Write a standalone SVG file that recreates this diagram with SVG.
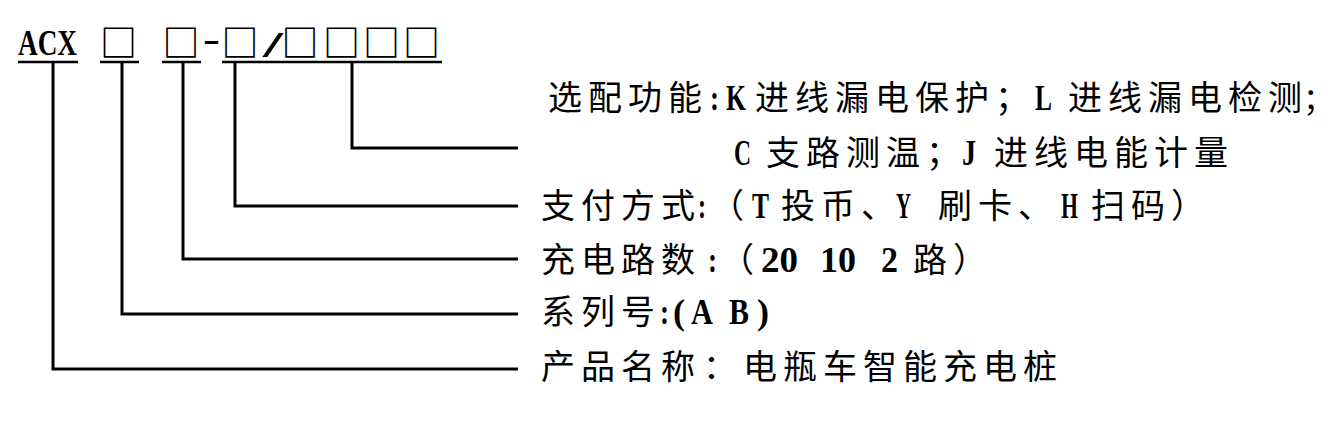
<svg xmlns="http://www.w3.org/2000/svg" width="1340" height="426" viewBox="0 0 1340 426">
<style>
.t{fill:#000;font-size:34px}
.c{font-family:"Noto Sans CJK SC",sans-serif;letter-spacing:6px}
.e{font-family:"Noto Sans CJK SC",sans-serif;letter-spacing:0}
.l{font-family:"Liberation Serif",serif;font-weight:bold;font-size:35px;letter-spacing:0}
.box{font-family:"Noto Sans CJK SC",sans-serif;font-weight:bold;font-size:37px;fill:#000;text-anchor:middle}
.ln{fill:none;stroke:#000;stroke-width:3}
.ul{fill:none;stroke:#000;stroke-width:2.5}
</style>
<rect width="1340" height="426" fill="#fff"/>
<g id="code">
<text x="18" y="55" class="t l" textLength="59" lengthAdjust="spacingAndGlyphs">ACX</text>
<text class="box" y="56.5"><tspan x="118.5">□</tspan><tspan x="181">□</tspan><tspan x="240">□</tspan><tspan x="300">□</tspan><tspan x="341.5">□</tspan><tspan x="381.5">□</tspan><tspan x="421.5">□</tspan></text>
<text x="203" y="51" class="t l" textLength="17" lengthAdjust="spacingAndGlyphs">-</text>
<text x="263" y="57" class="t l" font-size="37" textLength="20" lengthAdjust="spacingAndGlyphs">/</text>
<path class="ul" d="M18,62H78M100,62H139M162,62H201M222,62H442"/>
</g>
<g id="connectors">
<path class="ln" d="M352,62V148H518"/>
<path class="ln" d="M235,62V206H518"/>
<path class="ln" d="M183,62V259H518"/>
<path class="ln" d="M122,62V314H518"/>
<path class="ln" d="M53,62V369H518"/>
</g>
<g id="options">
<text class="t" y="110"><tspan class="c" x="548">选配功能</tspan><tspan class="l" x="710" textLength="9" lengthAdjust="spacingAndGlyphs">:</tspan><tspan class="l" x="726" textLength="20" lengthAdjust="spacingAndGlyphs">K</tspan><tspan class="c" x="755">进线漏电保护</tspan><tspan class="e" x="995">；</tspan><tspan class="l" x="1035" textLength="17" lengthAdjust="spacingAndGlyphs">L</tspan><tspan class="c" x="1068">进线漏电检</tspan><tspan class="e" x="1268">测</tspan><tspan class="e" x="1303" font-size="31">；</tspan></text>
<text class="t" y="165"><tspan class="l" x="734" textLength="17" lengthAdjust="spacingAndGlyphs">C</tspan><tspan class="c" x="766">支路测温</tspan><tspan class="e" x="926">；</tspan><tspan class="l" x="962" textLength="14" lengthAdjust="spacingAndGlyphs">J</tspan><tspan class="c" x="994">进线电能计量</tspan></text>
</g>
<g id="payment">
<text class="t" y="218"><tspan class="c" x="541">支付方</tspan><tspan class="e" x="661">式</tspan><tspan class="l" x="698" textLength="8" lengthAdjust="spacingAndGlyphs">:</tspan><tspan class="e" x="710">（</tspan><tspan class="l" x="752" textLength="17" lengthAdjust="spacingAndGlyphs">T</tspan><tspan class="c" x="781">投币</tspan><tspan class="e" x="861">、</tspan><tspan class="l" x="896" textLength="15" lengthAdjust="spacingAndGlyphs">Y</tspan><tspan class="c" x="938">刷卡、</tspan><tspan class="l" x="1061" textLength="17" lengthAdjust="spacingAndGlyphs">H</tspan><tspan class="c" x="1091">扫码）</tspan></text>
</g>
<g id="circuits">
<text class="t" y="272"><tspan class="c" x="541">充电路数</tspan><tspan class="l" x="708" textLength="9" lengthAdjust="spacingAndGlyphs">:</tspan><tspan class="e" x="720">（</tspan><tspan class="l" x="761" textLength="37" lengthAdjust="spacingAndGlyphs">20</tspan><tspan class="l" x="820" textLength="36" lengthAdjust="spacingAndGlyphs">10</tspan><tspan class="l" x="881" textLength="17" lengthAdjust="spacingAndGlyphs">2</tspan><tspan class="c" x="913">路）</tspan></text>
</g>
<g id="series">
<text class="t" y="324"><tspan class="c" x="541">系列</tspan><tspan class="e" x="621">号</tspan><tspan class="l" x="660" textLength="9" lengthAdjust="spacingAndGlyphs">:</tspan><tspan class="l" x="673" textLength="12" lengthAdjust="spacingAndGlyphs">(</tspan><tspan class="l" x="691" textLength="22" lengthAdjust="spacingAndGlyphs">A</tspan><tspan class="l" x="729" textLength="20" lengthAdjust="spacingAndGlyphs">B</tspan><tspan class="l" x="757" textLength="12" lengthAdjust="spacingAndGlyphs">)</tspan></text>
</g>
<g id="product">
<text class="t" y="379"><tspan class="c" x="541">产品名称</tspan><tspan class="e" x="703">：</tspan><tspan class="c" x="743">电瓶车智能充电桩</tspan></text>
</g>
</svg>
